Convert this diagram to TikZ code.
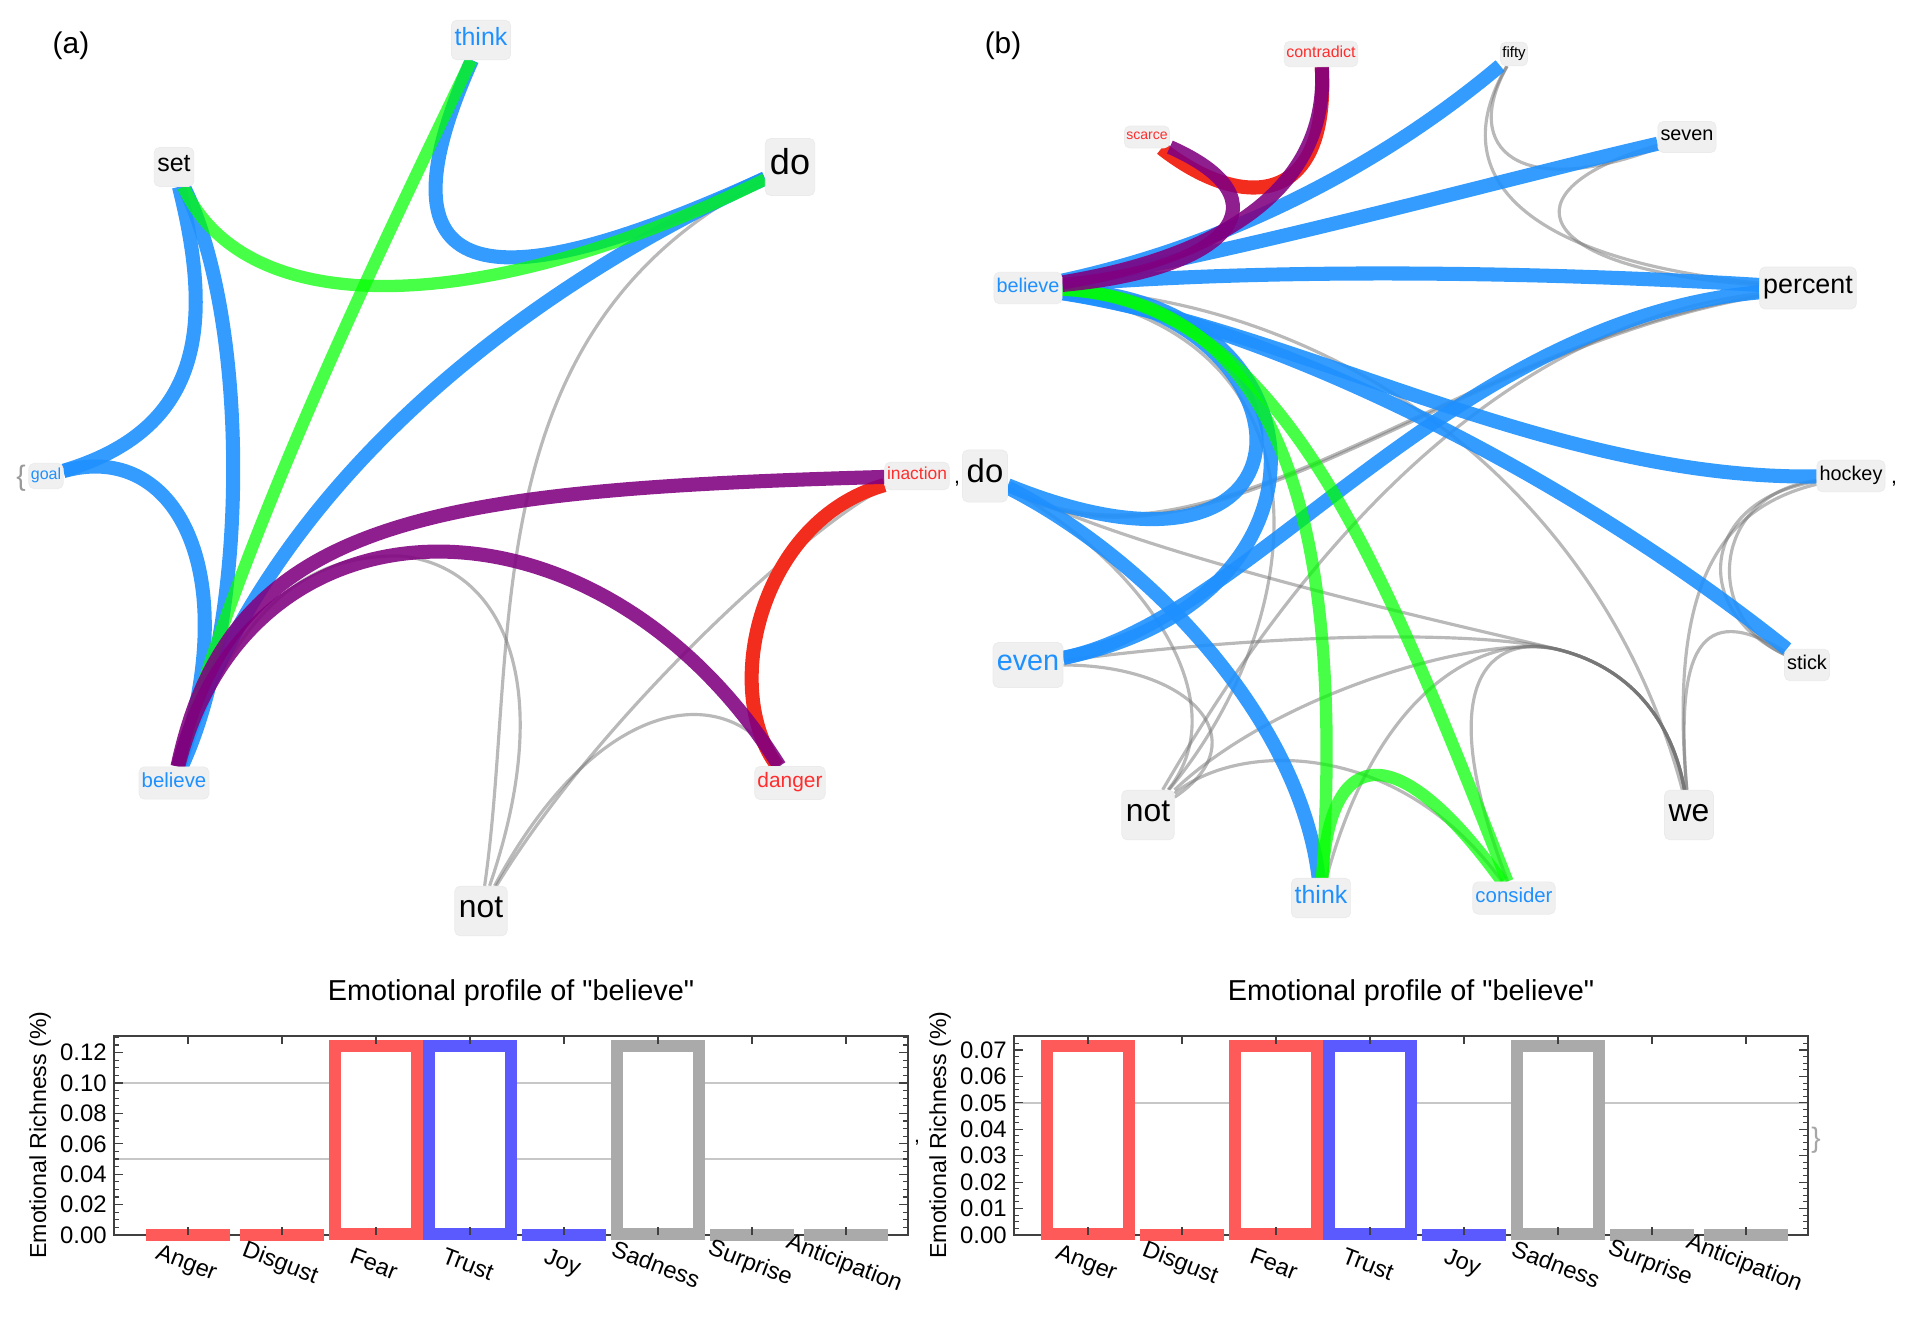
\documentclass[tikz,border=0pt]{standalone}
\usepackage{fontspec}
\setmainfont{Liberation Sans}
\setsansfont{Liberation Sans}
\newfontfamily\plainf{Liberation Sans}
\usetikzlibrary{backgrounds}
\newcommand\fsz[1]{\fontsize{#1}{#1}\selectfont}
\definecolor{cblue}{RGB}{30,144,255}
\definecolor{cgreen}{RGB}{0,255,0}
\definecolor{cpurple}{RGB}{128,0,128}
\definecolor{cred}{RGB}{242,45,30}
\definecolor{ctxtblue}{RGB}{30,144,255}
\definecolor{ctxtred}{RGB}{255,45,45}
\definecolor{lblfill}{RGB}{240,240,240}
\definecolor{barred}{RGB}{255,90,90}
\definecolor{barblue}{RGB}{90,90,255}
\definecolor{bargray}{RGB}{170,170,170}
\tikzset{
  lblbase/.style={fill=lblfill, draw=black!8, line width=0.4pt, rounded corners=3pt, execute at begin node=\strut},
  lb/.style={lblbase, font=\fsz{#1}, inner ysep={0.28*#1pt}, inner xsep={0.13*#1pt}},
  tb/.style={text=ctxtblue},
  tr/.style={text=ctxtred},
  bl/.style={draw=cblue, line width=8pt, draw opacity=0.9},
  gr/.style={draw=cgreen, line width=7pt, draw opacity=0.72},
  pu/.style={draw=cpurple, line width=8pt, draw opacity=0.88},
  rd/.style={draw=cred, line width=8pt},
  gy/.style={draw=black!55, line width=1.8pt, draw opacity=0.5},
  gridln/.style={draw=black!22, line width=0.6pt},
  frm/.style={draw=black!75, line width=0.8pt},
  tk/.style={draw=black!75, line width=0.6pt},
  tklbl/.style={font=\fsz{13.6}, inner sep=0pt, anchor=east},
  catlbl/.style={font=\fsz{13.4}, rotate=-21, inner sep=0pt},
  ttl/.style={font=\plainf\fsz{16.4}},
  ylbl/.style={font=\fsz{13.2}, rotate=90},
  punct/.style={font=\fsz{12}, inner sep=0pt},
  panel/.style={font=\fsz{17}},
}
\begin{document}
\begin{tikzpicture}[x=0.02cm, y=-0.02cm]
\useasboundingbox (0,0) rectangle (1911,1317);

% ---------------- panel (a) ----------------
\node[panel] (pa) at (71,46) {(a)};
\node[lb=14.2, tb] (a-think) at (481,40) {think};
\node[lb=20.5] (a-do) at (790,167) {do};
\node[lb=9.9, tr] (a-inaction) at (917,476) {inaction};
\node[lb=11.9, tr] (a-danger) at (790,783) {danger};
\node[lb=18.1] (a-not) at (481,911) {not};
\node[lb=11.6, tb] (a-believe) at (174,783) {believe};
\node[lb=9.1, tb] (a-goal) at (46,476) {goal};
\node[lb=14.2] (a-set) at (174,167) {set};
\node[font=\fsz{16}, text=black!40, inner sep=0pt] (a-brace) at (21,478) {\{};
\node[punct] (a-comma) at (957,484) {,};
\coordinate (a-bn) at (400,556);

\begin{scope}[on background layer]
  % gray
  \draw[gy] (a-do) .. controls (470,330) and (520,640) .. (a-not);
  \draw[gy] (a-believe) .. controls (240,600) and (310,555) .. (a-bn) .. controls (500,565) and (560,680) .. (a-not);
  \draw[gy] (a-inaction) .. controls (830,510) and (610,700) .. (a-not);
  \draw[gy] (a-danger) .. controls (730,680) and (600,690) .. (a-not);
  % colored
  \draw[bl] (a-set) .. controls (215,330) and (200,430) .. (a-goal);
  \draw[bl] (a-goal) .. controls (175,440) and (245,570) .. (a-believe);
  \draw[bl] (a-set) .. controls (250,320) and (250,620) .. (a-believe);
  \draw[bl] (a-think) .. controls (360,310) and (520,290) .. (a-do);
  \draw[bl] (a-do) .. controls (500,300) and (260,500) .. (a-believe);
  \draw[gr] (a-set) .. controls (250,330) and (500,310) .. (a-do);
  \draw[gr] (a-think) .. controls (370,270) and (240,540) .. (a-believe);
  \draw[rd] (a-inaction) .. controls (760,520) and (720,690) .. (a-danger);
  \draw[pu] (a-believe) .. controls (230,520) and (420,490) .. (a-inaction);
  \draw[pu] (a-believe) .. controls (250,480) and (600,480) .. (a-danger);
\end{scope}

% ---------------- panel (b) ----------------
\node[panel] (pb) at (1003,46) {(b)};
\node[lb=9.1, tr] (b-contradict) at (1321,54) {contradict};
\node[lb=8.5] (b-fifty) at (1514,54) {fifty};
\node[lb=8, tr] (b-scarce) at (1147,137) {scarce};
\node[lb=11.3] (b-seven) at (1687,137) {seven};
\node[lb=11.3, tb] (b-believe) at (1028,288) {believe};
\node[lb=15.3] (b-percent) at (1808,288) {percent};
\node[lb=18.7] (b-do) at (985,476) {do};
\node[lb=11.3] (b-hockey) at (1851,476) {hockey};
\node[lb=16.4, tb] (b-even) at (1028,665) {even};
\node[lb=11.3] (b-stick) at (1807,665) {stick};
\node[lb=18.1] (b-not) at (1148,815) {not};
\node[lb=18.1] (b-we) at (1689,815) {we};
\node[lb=14.2, tb] (b-think) at (1321,898) {think};
\node[lb=11.6, tb] (b-consider) at (1514,898) {consider};
\node[punct] (b-comma2) at (1894,484) {,};
\coordinate (wejoin) at (1560,650);

\begin{scope}[on background layer]
  % gray
  \draw[gy] (b-fifty) .. controls (1460,150) and (1520,200) .. (b-seven);
  \draw[gy] (b-fifty) .. controls (1440,180) and (1530,260) .. (b-percent);
  \draw[gy] (b-seven) .. controls (1500,190) and (1530,270) .. (b-percent);
  \draw[gy] (b-hockey) .. controls (1700,500) and (1690,610) .. (b-stick);
  \draw[gy] (b-hockey) .. controls (1712,494) and (1702,616) .. (b-stick);
  \draw[gy] (b-hockey) .. controls (1710,510) and (1670,600) .. (b-we);
  \draw[gy] (b-stick) .. controls (1700,600) and (1675,650) .. (b-we);
  \draw[gy] (b-believe) .. controls (1330,300) and (1600,480) .. (b-we);
  \draw[gy] (b-do) .. controls (1150,560) and (1490,632) .. (wejoin) .. controls (1630,668) and (1672,720) .. (b-we);
  \draw[gy] (b-even) .. controls (1300,630) and (1490,632) .. (wejoin) .. controls (1630,668) and (1672,720) .. (b-we);
  \draw[gy] (b-not) .. controls (1280,690) and (1490,632) .. (wejoin) .. controls (1630,668) and (1672,720) .. (b-we);
  \draw[gy] (b-think) .. controls (1380,680) and (1490,632) .. (wejoin) .. controls (1630,668) and (1672,720) .. (b-we);
  \draw[gy] (b-consider) .. controls (1430,680) and (1490,632) .. (wejoin) .. controls (1630,668) and (1672,720) .. (b-we);
  \draw[gy] (b-even) .. controls (1190,665) and (1260,740) .. (b-not);
  \draw[gy] (b-do) .. controls (1140,560) and (1240,700) .. (b-not);
  \draw[gy] (b-not) .. controls (1310,620) and (1340,340) .. (b-believe);
  \draw[gy] (b-not) .. controls (1250,640) and (1450,330) .. (b-percent);
  \draw[gy] (b-do) .. controls (1200,600) and (1450,350) .. (b-percent);
  \draw[gy] (b-do) .. controls (1205,596) and (1452,346) .. (b-percent);
  \draw[gy] (b-not) .. controls (1240,740) and (1400,740) .. (b-consider);
  % colored
  \draw[bl] (b-believe) .. controls (1250,240) and (1400,150) .. (b-fifty);
  \draw[bl] (b-believe) .. controls (1250,250) and (1500,180) .. (b-seven);
  \draw[bl] (b-believe) .. controls (1300,265) and (1600,275) .. (b-percent);
  \draw[bl] (b-believe) .. controls (1300,330) and (1550,480) .. (b-hockey);
  \draw[bl] (b-believe) .. controls (1250,320) and (1550,460) .. (b-stick);
  \draw[bl] (b-believe) .. controls (1320,310) and (1340,620) .. (b-do);
  \draw[bl] (b-believe) .. controls (1330,300) and (1350,600) .. (b-even);
  \draw[bl] (b-do) .. controls (1150,560) and (1300,720) .. (b-think);
  \draw[bl] (b-even) .. controls (1250,620) and (1450,320) .. (b-percent);
  \draw[gr] (b-believe) .. controls (1280,300) and (1345,520) .. (b-think);
  \draw[gr] (b-believe) .. controls (1280,300) and (1380,560) .. (b-consider);
  \draw[gr] (b-think) .. controls (1330,740) and (1400,740) .. (b-consider);
  \draw[rd] (b-scarce) .. controls (1240,210) and (1330,210) .. (b-contradict);
  \draw[pu] (b-believe) .. controls (1230,270) and (1290,200) .. (b-scarce);
  \draw[pu] (b-believe) .. controls (1200,260) and (1330,200) .. (b-contradict);
\end{scope}

% ---------------- chart (left) ----------------
\node[ttl] (t1) at (511,993) {Emotional profile of "believe"};
\node[ylbl] (y1) at (40,1135) {Emotional Richness (\%)};
\draw[gridln] (114,1083) -- (908,1083);
\draw[gridln] (114,1159) -- (908,1159);
\draw[frm] (114,1036) rectangle (908,1235);
\foreach \k/\bc/\bv in {0/barred/0,1/barred/0,2/barred/1,3/barblue/1,4/barblue/0,5/bargray/1,6/bargray/0,7/bargray/0}{
  \pgfmathsetmacro\bcx{188+94*\k}
  \ifnum\bv=1
    \draw[draw=\bc, line width=6.8pt, fill=white] (\bcx-41,1046) rectangle (\bcx+41,1234);
  \else
    \fill[\bc] (\bcx-42,1229) rectangle (\bcx+42,1241);
  \fi
}
\foreach \i in {0,...,26}{
  \pgfmathsetmacro\tky{1235-7.6*\i}
  \pgfmathsetmacro\tkl{ifthenelse(mod(\i,4)==0,9,5)}
  \draw[tk] (114,\tky) -- ++(\tkl,0);
  \draw[tk] (908,\tky) -- ++(-\tkl,0);
}
\foreach \k in {0,...,7}{
  \draw[tk] ({188+94*\k},1036) -- ++(0,8);
  \draw[tk] ({188+94*\k},1235) -- ++(0,-8);
}
\foreach \v/\l in {0/0.00,1/0.02,2/0.04,3/0.06,4/0.08,5/0.10,6/0.12}{
  \node[tklbl] (ly\v) at (107,{1235-30.4*\v}) {\l};
}
\foreach \k/\n in {0/Anger,1/Disgust,2/Fear,3/Trust,4/Joy,5/Sadness,6/Surprise,7/Anticipation}{
  \node[catlbl] (lc\k) at ({186+94*\k},1264) {\n};
}

\node[punct] (c-comma) at (917,1143) {,};

% ---------------- chart (right) ----------------
\node[ttl] (t2) at (1411,993) {Emotional profile of "believe"};
\node[ylbl] (y2) at (940,1135) {Emotional Richness (\%)};
\draw[gridln] (1014,1103) -- (1808,1103);
\draw[frm] (1014,1036) rectangle (1808,1235);
\foreach \k/\bc/\bv in {0/barred/1,1/barred/0,2/barred/1,3/barblue/1,4/barblue/0,5/bargray/1,6/bargray/0,7/bargray/0}{
  \pgfmathsetmacro\bcx{1088+94*\k}
  \ifnum\bv=1
    \draw[draw=\bc, line width=6.8pt, fill=white] (\bcx-41,1046) rectangle (\bcx+41,1234);
  \else
    \fill[\bc] (\bcx-42,1229) rectangle (\bcx+42,1241);
  \fi
}
\foreach \i in {0,...,30}{
  \pgfmathsetmacro\tky{1235-6.6075*\i}
  \pgfmathsetmacro\tkl{ifthenelse(mod(\i,4)==0,9,5)}
  \draw[tk] (1014,\tky) -- ++(\tkl,0);
  \draw[tk] (1808,\tky) -- ++(-\tkl,0);
}
\foreach \k in {0,...,7}{
  \draw[tk] ({1088+94*\k},1036) -- ++(0,8);
  \draw[tk] ({1088+94*\k},1235) -- ++(0,-8);
}
\foreach \v/\l in {0/0.00,1/0.01,2/0.02,3/0.03,4/0.04,5/0.05,6/0.06,7/0.07}{
  \node[tklbl] (ry\v) at (1007,{1235-26.43*\v}) {\l};
}
\foreach \k/\n in {0/Anger,1/Disgust,2/Fear,3/Trust,4/Joy,5/Sadness,6/Surprise,7/Anticipation}{
  \node[catlbl] (rc\k) at ({1086+94*\k},1264) {\n};
}
\node[font=\fsz{16}, text=black!35, inner sep=0pt] (c-brace) at (1816,1140) {\}};
\end{tikzpicture}
\end{document}
